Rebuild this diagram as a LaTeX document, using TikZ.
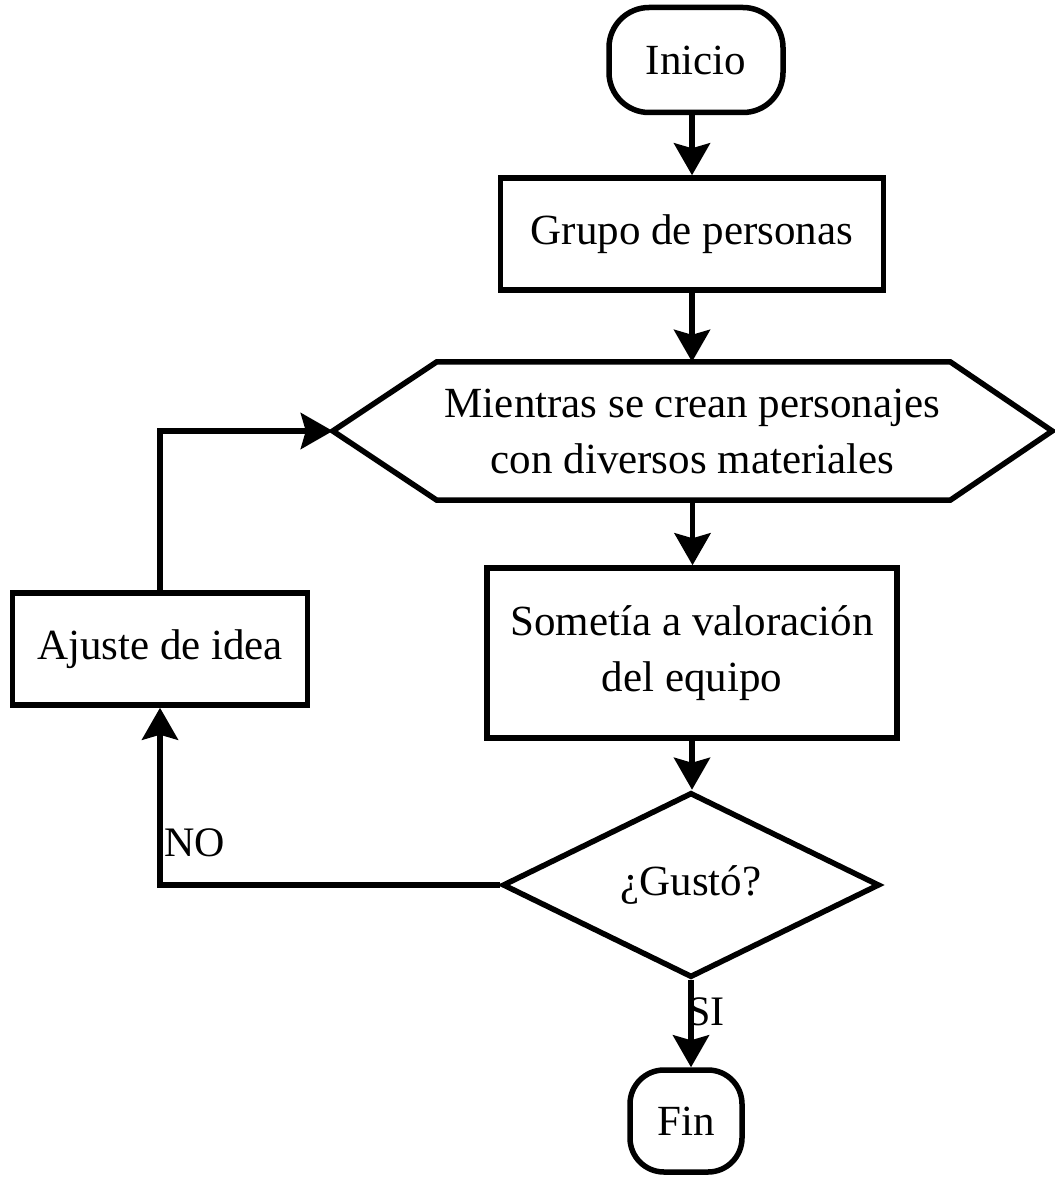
\documentclass[tikz,border=0pt]{standalone}
\usepackage{fontspec}
\setmainfont{Liberation Serif}
\usetikzlibrary{arrows.meta,shapes.geometric,calc}
\begin{document}
\begin{tikzpicture}[x=1pt,y=-1pt,
  every node/.style={font=\fontsize{43}{56}\selectfont, align=center, inner sep=0pt},
  boxstyle/.style={draw, line width=5.5pt, rectangle},
  termstyle/.style={draw, line width=5.5pt, rectangle, rounded corners=40pt},
  diastyle/.style={draw, line width=5.5pt, diamond, aspect=2},
  arrowstyle/.style={line width=5.5pt, -{Stealth[length=32pt,width=36pt,inset=5pt]}},
  linestyle/.style={line width=5.5pt},
  lbl/.style={font=\fontsize{42}{48}\selectfont}]
\useasboundingbox (0,0) rectangle (1054,1177);
\node[termstyle, minimum width=174pt, minimum height=105pt] (ini) at (696,60) {Inicio};
\node[boxstyle, minimum width=383pt, minimum height=112pt] (gru) at (692,234) {Grupo de personas};
\node[minimum width=719pt, minimum height=138pt] (hex) at (692.5,431) {Mientras se crean personajes\\con diversos materiales};
\draw[linestyle, line join=miter] (hex.west) -- ($(hex.north west)+(104,0)$) -- ($(hex.north east)+(-102,0)$) -- (hex.east) -- ($(hex.south east)+(-102,0)$) -- ($(hex.south west)+(104,0)$) -- cycle;
\node[boxstyle, minimum width=410pt, minimum height=170pt] (som) at (692,653) {Sometía a valoración\\del equipo};
\node[boxstyle, minimum width=295pt, minimum height=112pt] (aju) at (160,649) {Ajuste de idea};
\node[diastyle, minimum width=377pt, minimum height=185pt] (gus) at (691,885) {¿Gustó?};
\node[termstyle, rounded corners=34pt, minimum width=112pt, minimum height=102pt] (fin) at (686,1121) {Fin};
\node[lbl, anchor=west] (no) at (164,843) {NO};
\node[lbl] (si) at (706,1012) {SI};
\draw[arrowstyle] (ini.south -| gru.north) -- (gru.north);
\draw[arrowstyle] (gru.south) -- (gru.south |- hex.north);
\draw[arrowstyle] (hex.south) -- (hex.south |- som.north);
\draw[arrowstyle] (som.south) -- (som.south |- gus.north);
\draw[arrowstyle] (gus.south) -- (gus.south |- fin.north);
\draw[arrowstyle] (gus.west) -| (aju.south);
\draw[arrowstyle] (aju.north) |- (hex.west);
\end{tikzpicture}
\end{document}
